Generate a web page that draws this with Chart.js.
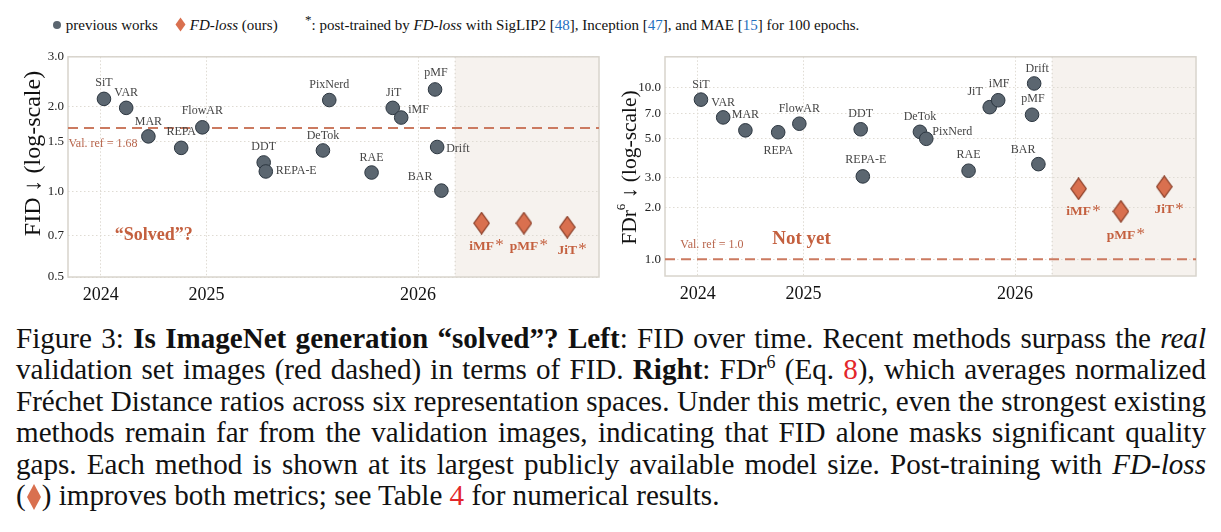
<!DOCTYPE html>
<html>
<head>
<meta charset="utf-8">
<script src="https://cdn.jsdelivr.net/npm/chart.js@4.4.1/dist/chart.umd.min.js"></script>
<style>
  body { margin: 0; width: 1221px; height: 532px; overflow: hidden; position: relative; background: #fff;
         font-family: "Liberation Serif", "Times New Roman", serif; color: #111; }
  .leg { position: absolute; top: 17px; font-size: 15px; line-height: 16px; white-space: nowrap; }
  .leg sup { line-height: 0; font-size: 13px; }
  .cite { color: #1f6fc0; }
  .ref { color: #e3262b; }
  #left { position: absolute; left: 0; top: 45px; }
  #right { position: absolute; left: 610px; top: 45px; }
  #caption { position: absolute; left: 16px; top: 323px; width: 1190px; font-size: 29.1px; line-height: 31.4px; }
  #caption div { text-align: justify; text-align-last: justify; white-space: nowrap; }
  #caption div.last { text-align-last: left; }
  #caption sup { font-size: 18px; line-height: 0; }
</style>
</head>
<body>
<div class="leg" style="left:52px"><svg width="10" height="10" style="vertical-align:0px"><circle cx="5" cy="5" r="4" fill="#5b6670"/></svg> previous works</div>
<div class="leg" style="left:175px"><svg width="11" height="15" style="vertical-align:-2px"><path d="M5.5 0.5 L10.5 7.5 L5.5 14.5 L0.5 7.5 Z" fill="#d9704f"/></svg> <i>FD-loss</i> (ours)</div>
<div class="leg" style="left:305px"><sup>*</sup>: post-trained by <i>FD-loss</i> with SigLIP2 [<span class="cite">48</span>], Inception [<span class="cite">47</span>], and MAE [<span class="cite">15</span>] for 100 epochs.</div>

<canvas id="left" width="610" height="270"></canvas>
<canvas id="right" width="611" height="270"></canvas>

<div id="caption">
  <div>Figure 3: <b>Is ImageNet generation “solved”? Left</b>: FID over time. Recent methods surpass the <i>real</i></div>
  <div>validation set images (red dashed) in terms of FID. <b>Right</b>: FDr<sup>6</sup> (Eq. <span class="ref">8</span>), which averages normalized</div>
  <div>Fréchet Distance ratios across six representation spaces. Under this metric, even the strongest existing</div>
  <div>methods remain far from the validation images, indicating that FID alone masks significant quality</div>
  <div>gaps. Each method is shown at its largest publicly available model size. Post-training with <i>FD-loss</i></div>
  <div class="last">(<svg width="16" height="28" style="vertical-align:-6px"><path d="M8 1 L15 14 L8 27 L1 14 Z" fill="#d9704f"/></svg>) improves both metrics; see Table <span class="ref">4</span> for numerical results.</div>
</div>

<script>
// previous works, release date as fractional year
const methods = ["SiT", "VAR", "MAR", "REPA", "FlowAR", "DDT", "REPA-E", "DeTok", "PixNerd", "RAE", "JiT", "iMF", "pMF", "Drift", "BAR"];
const released = [2024.03, 2024.24, 2024.45, 2024.76, 2024.96, 2025.27, 2025.28, 2025.55, 2025.58, 2025.78, 2025.88, 2025.92, 2026.08, 2026.09, 2026.11];
const fid = [2.13, 1.98, 1.57, 1.43, 1.69, 1.27, 1.18, 1.40, 2.11, 1.17, 1.98, 1.83, 2.30, 1.44, 1.01];
const fdr6 = [8.46, 6.67, 5.61, 5.47, 6.13, 5.69, 3.03, 5.50, 5.01, 3.27, 7.65, 8.39, 6.91, 10.5, 3.57];

// FD-loss post-trained models (placed in the shaded slot after the timeline)
const ours = ["iMF", "pMF", "JiT"];
const oursSlot = [2026.30, 2026.50, 2026.705];
const oursFid = [0.775, 0.775, 0.75];
const oursFdr6 = [2.57, 1.90, 2.64];

const yearTicks = [2024, 2025, 2026];
const fidTicks = [0.5, 0.7, 1.0, 1.5, 2.0, 3.0];
const fdrTicks = [1.0, 2.0, 3.0, 5.0, 7.0, 10.0];
const fidRef = 1.68;
const fdrRef = 1.0;
const xRange = [2023.69, 2026.855];
const shadeFrom = 2026.175;

// the time axis gives 2025 twice the width of 2024
const timePos = (y) => (y < 2025 ? y - 2024 : 1 + 2 * (y - 2025));

const SERIF = '"Liberation Serif", "Times New Roman", serif';
const TERRA = "#c4603f";

function diamondImg(w, h) {
  const c = document.createElement("canvas");
  c.width = w; c.height = h;
  const g = c.getContext("2d");
  g.beginPath();
  g.moveTo(w / 2, 0.8); g.lineTo(w - 0.8, h / 2); g.lineTo(w / 2, h - 0.8); g.lineTo(0.8, h / 2);
  g.closePath();
  g.fillStyle = "#d9704f"; g.fill();
  g.lineWidth = 1.2; g.strokeStyle = "#8a3d26"; g.stroke();
  return c;
}
const diamond = diamondImg(17, 23);

const decor = {
  id: "decor",
  beforeDraw(chart, args, o) {
    const { ctx, chartArea: a, scales: { x } } = chart;
    const sx = x.getPixelForValue(timePos(shadeFrom));
    ctx.save();
    ctx.fillStyle = "#f6f2ee";
    ctx.fillRect(sx, a.top, a.right - sx, a.bottom - a.top);
    ctx.restore();
  },
  beforeDatasetsDraw(chart, args, o) {
    const { ctx, chartArea: a, scales: { x, y } } = chart;
    ctx.save();
    // dotted separator of the shaded slot
    const sx = x.getPixelForValue(timePos(shadeFrom));
    ctx.strokeStyle = "#d4d0c8"; ctx.lineWidth = 1; ctx.setLineDash([1.5, 2.5]);
    ctx.beginPath(); ctx.moveTo(sx, a.top); ctx.lineTo(sx, a.bottom); ctx.stroke();
    // frame
    ctx.setLineDash([]);
    ctx.strokeStyle = "#d8d4cc"; ctx.lineWidth = 1.5;
    ctx.strokeRect(a.left, a.top, a.right - a.left, a.bottom - a.top);
    // validation reference
    const ry = y.getPixelForValue(o.ref);
    ctx.strokeStyle = "#cb7a60"; ctx.lineWidth = 2; ctx.setLineDash([10, 6]);
    ctx.beginPath(); ctx.moveTo(a.left, ry); ctx.lineTo(a.right, ry); ctx.stroke();
    ctx.setLineDash([]);
    ctx.fillStyle = "#b8654c"; ctx.font = "12px " + SERIF;
    ctx.textAlign = "left"; ctx.textBaseline = "middle";
    ctx.fillText(o.refText, x.getPixelForValue(timePos(o.refAt[0])), y.getPixelForValue(o.refAt[1]));
    // verdict
    ctx.fillStyle = TERRA; ctx.font = "bold " + o.noteSize + "px " + SERIF; ctx.textAlign = "center";
    ctx.fillText(o.note, x.getPixelForValue(timePos(o.noteAt[0])), y.getPixelForValue(o.noteAt[1]));
    ctx.restore();
  },
  afterDatasetsDraw(chart, args, o) {
    const { ctx } = chart;
    ctx.save();
    // previous works labels
    const m0 = chart.getDatasetMeta(0);
    ctx.fillStyle = "#454545"; ctx.font = "12px " + SERIF; ctx.textBaseline = "middle";
    m0.data.forEach((pt, i) => {
      const p = o.place[methods[i]] || [0, -15, "center"];
      ctx.textAlign = p[2] || "center";
      ctx.fillText(methods[i], pt.x + p[0], pt.y + p[1]);
    });
    // ours labels with asterisk
    const m1 = chart.getDatasetMeta(1);
    m1.data.forEach((pt, i) => {
      const dy = o.oursDy[i];
      ctx.fillStyle = TERRA; ctx.font = "bold 13.5px " + SERIF;
      ctx.textAlign = "center"; ctx.textBaseline = "middle";
      ctx.fillText(ours[i], pt.x, pt.y + dy);
      const w = ctx.measureText(ours[i]).width;
      ctx.font = "17px " + SERIF; ctx.textBaseline = "alphabetic";
      ctx.fillText("*", pt.x + w / 2 + 5.5, pt.y + dy + 4);
    });
    ctx.restore();
  },
  afterDraw(chart, args, o) {
    const { ctx } = chart;
    const big = o.titleSize + "px " + SERIF, small = Math.round(o.titleSize * 0.62) + "px " + SERIF;
    ctx.save();
    ctx.translate(o.titleAt[0], o.titleAt[1]);
    ctx.rotate(-Math.PI / 2);
    ctx.fillStyle = "#111"; ctx.textBaseline = "middle"; ctx.textAlign = "left";
    let total = 0;
    o.title.forEach((t) => {
      ctx.font = t.sup ? small : big;
      total += ctx.measureText(t.text).width;
    });
    let cx = -total / 2;
    o.title.forEach((t) => {
      ctx.font = t.sup ? small : big;
      ctx.fillText(t.text, cx, t.sup ? -8 : 0);
      cx += ctx.measureText(t.text).width;
    });
    ctx.restore();
  },
};

function makeChart(id, values, oursValues, yTicks, yMin, yMax, yWidth, padRight, xHeight, deco) {
  return new Chart(document.getElementById(id), {
    type: "scatter",
    data: {
      datasets: [
        {
          data: released.map((d, i) => ({ x: timePos(d), y: values[i] })),
          pointStyle: "circle", pointRadius: 6.8,
          backgroundColor: "#5b6670", borderColor: "#2c3640", borderWidth: 1,
        },
        {
          data: oursSlot.map((d, i) => ({ x: timePos(d), y: oursValues[i] })),
          pointStyle: diamond, pointRadius: 10,
        },
      ],
    },
    options: {
      responsive: false,
      animation: false,
      devicePixelRatio: 1,
      layout: { padding: { top: 10, right: padRight, left: 0, bottom: 0 } },
      scales: {
        x: {
          type: "linear",
          min: timePos(xRange[0]), max: timePos(xRange[1]),
          afterBuildTicks: (s) => { s.ticks = yearTicks.map((y) => ({ value: timePos(y) })); },
          afterFit: (s) => { s.height = xHeight; },
          ticks: { callback: (v, i) => String(yearTicks[i]), font: { family: SERIF, size: 18 }, color: "#111", padding: 7, maxRotation: 0 },
          grid: { color: "#dfdbd3", lineWidth: 1, drawTicks: false },
          border: { display: false, dash: [1.5, 2] },
        },
        y: {
          type: "logarithmic",
          min: yMin, max: yMax,
          afterBuildTicks: (s) => { s.ticks = yTicks.map((v) => ({ value: v })); },
          afterFit: (s) => { s.width = yWidth; },
          ticks: { callback: (v) => Number(v).toFixed(1), font: { family: SERIF, size: 13 }, color: "#222", padding: 4 },
          grid: { color: "#dfdbd3", lineWidth: 1, drawTicks: false },
          border: { display: false, dash: [1.5, 2.5] },
        },
      },
      plugins: { legend: { display: false }, tooltip: { enabled: false }, decor: deco },
    },
    plugins: [decor],
  });
}

makeChart("left", fid, oursFid, fidTicks, 0.5, 3.0, 68, 11, 38, {
  ref: fidRef,
  refText: "Val. ref = 1.68",
  refAt: [2023.695, 1.475],
  note: "“Solved”?",
  noteSize: 18,
  noteAt: [2024.5, 0.70],
  oursDy: [23, 23, 23],
  titleAt: [34, 108.5],
  titleSize: 24,
  title: [{ text: "FID ↓ (log-scale)" }],
  place: {
    "SiT": [0, -16], "VAR": [0, -15], "MAR": [0, -15], "REPA": [0, -16], "FlowAR": [0, -16],
    "DDT": [0, -16], "REPA-E": [10, -1, "left"], "DeTok": [0, -15], "PixNerd": [0, -15],
    "RAE": [0, -15], "JiT": [1, -15], "iMF": [7, -8, "left"], "pMF": [1, -17],
    "Drift": [9, 2, "left"], "BAR": [-9, -14, "right"],
  },
});

makeChart("right", fdr6, oursFdr6, fdrTicks, 0.8, 15, 55, 25, 39, {
  ref: fdrRef,
  refText: "Val. ref = 1.0",
  refAt: [2023.835, 1.21],
  note: "Not yet",
  noteSize: 19,
  noteAt: [2024.98, 1.31],
  oursDy: [23, 24, 23],
  titleAt: [20, 122.5],
  titleSize: 21.5,
  title: [{ text: "FDr" }, { text: "6", sup: true }, { text: " ↓ (log-scale)" }],
  place: {
    "SiT": [0, -15], "VAR": [0, -15], "MAR": [0, -16], "REPA": [0, 19], "FlowAR": [0, -15],
    "DDT": [0, -15], "REPA-E": [3, -17], "DeTok": [0, -15], "PixNerd": [6, -7, "left"],
    "RAE": [0, -16], "JiT": [-7, -15, "right"], "iMF": [1, -16], "pMF": [1, -16],
    "Drift": [3, -15], "BAR": [-3, -14, "right"],
  },
});
</script>
</body>
</html>
